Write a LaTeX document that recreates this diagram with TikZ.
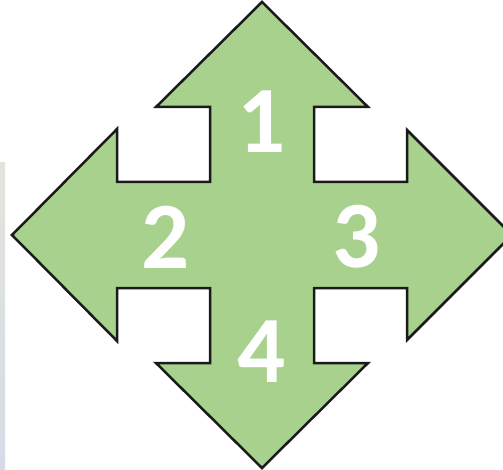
\documentclass[tikz,border=0pt]{standalone}
\usepackage{fontspec}
\setmainfont{Carlito}
\definecolor{arrowgreen}{HTML}{A9D18E}
\definecolor{edgeblack}{HTML}{1A1A1A}
\definecolor{bartop}{HTML}{E4E4DC}
\definecolor{barbot}{HTML}{D5DCE7}
\begin{document}
\begin{tikzpicture}[x=1pt,y=-1pt,
  numlabel/.style={text=white,font=\fontsize{95}{95}\selectfont\bfseries,inner sep=0pt,anchor=center}]
\useasboundingbox (0,0) rectangle (503,470);
\clip (0,0) rectangle (503,470);
\fill[white] (0,0) rectangle (503,470);
\shade[top color=bartop,bottom color=barbot] (0,163) rectangle (5,470);
\draw[fill=arrowgreen,draw=edgeblack,line width=2.5pt,line join=miter]
  (262,2) -- (368,107) -- (314,107) -- (314,182) -- (407,182) -- (407,130)
  -- (512,235) -- (407,340) -- (407,288) -- (314,288) -- (314,363)
  -- (368,363) -- (262,468) -- (156,363) -- (210,363) -- (210,288)
  -- (117,288) -- (117,341) -- (12,235) -- (117,129) -- (117,182)
  -- (210,182) -- (210,107) -- (156,107) -- cycle;
\node[numlabel] (n1) at (262,122) {1};
\node[numlabel] (n2) at (166,237) {2};
\node[numlabel] (n3) at (357,237) {3};
\node[numlabel] (n4) at (262,352) {4};
\end{tikzpicture}
\end{document}
